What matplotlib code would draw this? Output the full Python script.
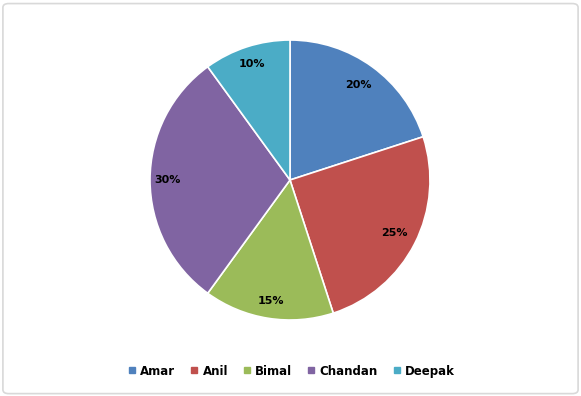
import numpy as np
import matplotlib.pyplot as plt
from matplotlib.patches import FancyBboxPatch
from matplotlib.lines import Line2D

names = ['Amar', 'Anil', 'Bimal', 'Chandan', 'Deepak']
shares = [20, 25, 15, 30, 10]
colors = ['#4F81BD', '#C0504D', '#9BBB59', '#8064A2', '#4BACC6']

# label distance from centre, as a fraction of the radius
lab_r = [0.835, 0.84, 0.875, 0.875, 0.87]

fig = plt.figure(figsize=(5.81, 3.96), dpi=100)

# light grey rounded frame round the chart
frame = FancyBboxPatch((0.005, 0.006), 0.99, 0.985, boxstyle='round,pad=0,rounding_size=0.01',
                       transform=fig.transFigure, facecolor='none', edgecolor='#D9D9D9',
                       lw=1.2, zorder=-1)
fig.patches.append(frame)

ax = fig.add_axes([0.2582, 0.1919, 0.4819, 0.7071])
wedges, texts, autotexts = ax.pie(shares, colors=colors, startangle=90, counterclock=False,
                                  autopct='%d%%', pctdistance=0.835,
                                  wedgeprops=dict(edgecolor='white', linewidth=1.2))
for w, t, r in zip(wedges, autotexts, lab_r):
    ang = np.deg2rad((w.theta1 + w.theta2) / 2)
    t.set_position((r * np.cos(ang), r * np.sin(ang)))
    t.set_fontsize(8)
    t.set_fontweight('bold')
    t.set_color('black')
ax.set_xlim(-1, 1)
ax.set_ylim(-1, 1)
ax.set_aspect('equal')

handles = [Line2D([], [], marker='s', ls='', color=c, markersize=5) for c in colors]
fig.legend(handles, names, loc='center', bbox_to_anchor=(0.5, 0.063), ncol=5, frameon=False,
           prop=dict(size=8.5, weight='bold'), handletextpad=0.2, columnspacing=1.1,
           handlelength=1.0)

fig.savefig('out.png', dpi=100)
